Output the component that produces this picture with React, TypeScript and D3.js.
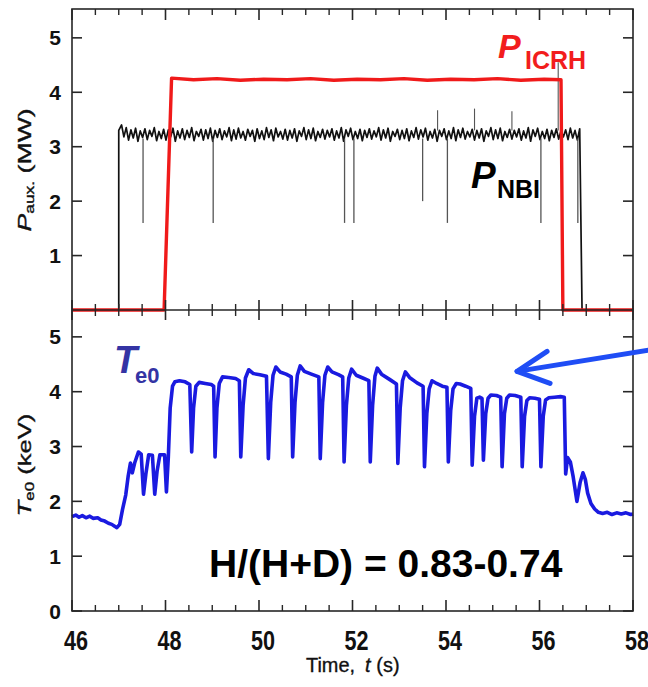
import React from 'react';
import * as d3 from 'd3';

// ---------- data ----------
const xTickLabels = [46, 48, 50, 52, 54, 56, 58];
const topYTicks = [1, 2, 3, 4, 5];
const botYTicks = [0, 1, 2, 3, 4, 5];

// P_ICRH (MW): [time s, power]
const icrhTrace: [number, number][] = [
  [46, 0], [47.97, 0], [48.13, 4.26], [48.6, 4.23], [49.1, 4.25], [49.6, 4.22], [50.1, 4.24],
  [50.6, 4.23], [51.1, 4.25], [51.6, 4.22], [52.1, 4.24], [52.6, 4.23], [53.1, 4.25],
  [53.6, 4.22], [54.1, 4.24], [54.6, 4.23], [55.1, 4.25], [55.6, 4.22], [56.1, 4.24],
  [56.46, 4.23], [56.5, 0], [58, 0],
];

// P_NBI (MW) plateau samples, starting 47.06 s, every 0.05 s
const nbiStart = 47.06;
const nbiStep = 0.05;
const nbiPlateau = [
  3.40, 3.18, 3.35, 3.12, 3.31, 3.16, 3.34, 3.10, 3.29, 3.17,
  3.33, 3.13, 3.30, 3.19, 3.35, 3.11, 3.28, 3.15, 3.32, 3.12,
  3.31, 3.18, 3.34, 3.10, 3.29, 3.16, 3.33, 3.13, 3.30, 3.17,
  3.35, 3.11, 3.28, 3.19, 3.32, 3.12, 3.31, 3.15, 3.34, 3.10,
  3.30, 3.17, 3.33, 3.13, 3.29, 3.18, 3.35, 3.11, 3.31, 3.14,
  3.34, 3.16, 3.28, 3.12, 3.32, 3.19, 3.30, 3.10, 3.33, 3.15,
  3.29, 3.13, 3.35, 3.17, 3.31, 3.11, 3.34, 3.18, 3.28, 3.14,
  3.32, 3.12, 3.30, 3.16, 3.33, 3.10, 3.29, 3.19, 3.35, 3.13,
  3.31, 3.15, 3.34, 3.11, 3.28, 3.17, 3.32, 3.14, 3.30, 3.18,
  3.33, 3.12, 3.29, 3.16, 3.35, 3.10, 3.31, 3.19, 3.34, 3.13,
  3.28, 3.15, 3.32, 3.11, 3.30, 3.17, 3.33, 3.14, 3.29, 3.18,
  3.35, 3.12, 3.31, 3.16, 3.34, 3.10, 3.28, 3.19, 3.32, 3.13,
  3.30, 3.15, 3.33, 3.11, 3.29, 3.17, 3.35, 3.14, 3.31, 3.18,
  3.34, 3.12, 3.28, 3.16, 3.32, 3.10, 3.30, 3.19, 3.33, 3.13,
  3.29, 3.15, 3.35, 3.11, 3.31, 3.17, 3.34, 3.14, 3.28, 3.18,
  3.32, 3.12, 3.30, 3.16, 3.33, 3.10, 3.29, 3.19, 3.35, 3.13,
  3.31, 3.15, 3.34, 3.11, 3.28, 3.17, 3.32, 3.14, 3.30, 3.18,
  3.33, 3.12, 3.29, 3.16, 3.35, 3.10, 3.31, 3.19, 3.34, 3.13,
  3.28, 3.15, 3.32, 3.11, 3.30, 3.17, 3.33, 3.14, 3.29, 3.18,
  3.31, 3.13, 3.34, 3.16, 3.30, 3.12, 3.33,
];
const nbiOn = 47.0;
const nbiOff = 56.91;
// beam-notch dips and spikes: [time, value]
const nbiDips: [number, number][] = [
  [47.52, 1.6], [49.02, 1.6], [51.83, 1.6], [52.03, 1.6], [53.5, 2.0], [54.03, 1.6], [56.03, 1.6], [56.82, 1.6],
];
const nbiSpikes: [number, number][] = [[53.82, 3.67], [54.61, 3.7], [55.41, 3.65], [56.4, 4.55]];

// T_e0 (keV)
const te0Trace: [number, number][] = [
  [46.0, 1.72], [46.08, 1.75], [46.15, 1.71], [46.22, 1.74], [46.3, 1.70], [46.38, 1.73], [46.45, 1.69],
  [46.55, 1.70], [46.62, 1.66], [46.7, 1.64], [46.78, 1.60], [46.85, 1.58], [46.92, 1.54], [46.96, 1.52],
  [47.02, 1.58], [47.08, 1.85], [47.15, 2.12], [47.2, 2.45], [47.25, 2.70], [47.29, 2.52], [47.34, 2.70],
  [47.42, 2.90], [47.48, 2.86], [47.53, 2.13], [47.58, 2.5], [47.64, 2.85], [47.72, 2.84], [47.77, 2.13],
  [47.82, 2.55], [47.88, 2.85], [47.98, 2.85], [48.02, 2.17], [48.06, 2.8], [48.1, 3.7], [48.15, 4.1],
  [48.2, 4.18], [48.3, 4.2], [48.42, 4.18], [48.52, 4.13],
  [48.56, 2.9], [48.6, 3.7], [48.65, 4.1], [48.72, 4.17], [48.85, 4.15], [48.98, 4.13], [49.03, 4.1],
  [49.06, 2.81], [49.1, 3.7], [49.15, 4.15], [49.22, 4.27], [49.35, 4.26], [49.5, 4.24], [49.58, 4.2],
  [49.61, 2.81], [49.66, 3.75], [49.71, 4.25], [49.78, 4.4], [49.88, 4.33], [50.02, 4.31], [50.16, 4.28],
  [50.2, 2.78], [50.25, 3.8], [50.3, 4.3], [50.36, 4.45], [50.45, 4.36], [50.58, 4.32], [50.69, 4.27],
  [50.72, 2.81], [50.77, 3.8], [50.82, 4.3], [50.88, 4.47], [50.97, 4.37], [51.12, 4.32], [51.28, 4.27],
  [51.31, 2.78], [51.36, 3.8], [51.41, 4.3], [51.47, 4.45], [51.56, 4.36], [51.7, 4.31], [51.79, 4.27],
  [51.82, 2.72], [51.87, 3.75], [51.92, 4.25], [51.98, 4.41], [52.08, 4.3], [52.22, 4.25], [52.35, 4.2],
  [52.38, 2.72], [52.43, 3.75], [52.48, 4.28], [52.53, 4.43], [52.62, 4.32], [52.8, 4.22], [52.94, 4.14],
  [52.97, 2.69], [53.02, 3.7], [53.07, 4.2], [53.13, 4.36], [53.22, 4.26], [53.38, 4.16], [53.51, 4.1],
  [53.54, 2.63], [53.59, 3.6], [53.64, 4.05], [53.7, 4.2], [53.8, 4.15], [53.92, 4.1], [54.02, 4.08],
  [54.05, 2.72], [54.1, 3.65], [54.15, 4.05], [54.22, 4.15], [54.3, 4.14], [54.42, 4.1], [54.53, 4.06],
  [54.56, 2.66], [54.61, 3.55], [54.66, 3.88], [54.72, 3.9], [54.77, 3.88],
  [54.8, 2.75], [54.85, 3.6], [54.9, 3.88], [54.96, 3.94], [55.08, 3.93], [55.17, 3.9],
  [55.2, 2.63], [55.25, 3.6], [55.3, 3.88], [55.36, 3.94], [55.48, 3.93], [55.6, 3.9],
  [55.63, 2.63], [55.68, 3.55], [55.73, 3.84], [55.79, 3.89], [55.9, 3.88], [56.0, 3.86],
  [56.03, 2.63], [56.08, 3.55], [56.13, 3.85], [56.2, 3.89], [56.32, 3.9], [56.45, 3.91], [56.53, 3.9],
  [56.56, 2.5], [56.6, 2.8], [56.66, 2.72], [56.72, 2.45], [56.8, 2.0], [56.87, 2.35], [56.93, 2.52],
  [56.98, 2.4], [57.03, 2.15], [57.1, 1.96], [57.18, 1.86], [57.26, 1.80], [57.35, 1.78], [57.45, 1.80],
  [57.55, 1.76], [57.65, 1.79], [57.75, 1.77], [57.85, 1.79], [57.95, 1.76], [58, 1.77],
];

const ratioText = 'H/(H+D) = 0.83-0.74';

// ---------- chart ----------
const FONT = "'Liberation Sans', Arial, Helvetica, sans-serif";

export default function App() {
  const x = d3.scaleLinear().domain([46, 58]).range([72, 633]);
  const yTop = d3.scaleLinear().domain([0, 5.53]).range([310, 9]);
  const yBot = d3.scaleLinear().domain([0, 5.49]).range([611, 310]);

  const lineTop = d3.line<[number, number]>().x(d => x(d[0])).y(d => yTop(d[1]));
  const lineBot = d3.line<[number, number]>().x(d => x(d[0])).y(d => yBot(d[1]));

  const nbiSamples: [number, number][] = nbiPlateau.map((v, i) => [nbiStart + i * nbiStep, v] as [number, number]);
  const nbiTrace: [number, number][] = [
    [46, 0], [nbiOn, 0], [nbiOn, 3.3],
    ...nbiSamples,
    [nbiOff, 0], [58, 0],
  ];

  const minor = d3.range(46, 58.001, 0.5).filter(t => Math.abs(t - Math.round(t / 2) * 2) > 1e-6);
  const frameColor = '#262626';
  const L = 72, R = 633, T = 9, B = 611, M = 310;

  const arrowTip: [number, number] = [x(55.52), yBot(4.37)];
  const titleStyle = { fontSize: 21, fill: '#111', stroke: '#111', strokeWidth: 0.35 } as const;

  return (
    <svg width={648} height={687} style={{ position: 'absolute', left: 0, top: 0, background: '#fff' }}
      fontFamily={FONT}>
      <rect x={0} y={0} width={648} height={687} fill="#fff" />

      {/* NBI */}
      <path d={lineTop(nbiTrace) || ''} fill="none" stroke="#111" strokeWidth={1.7} strokeLinejoin="round" />
      {nbiDips.map(([t, v], i) => (
        <line key={'d' + i} x1={x(t)} x2={x(t)} y1={yTop(3.15)} y2={yTop(v)} stroke="#555" strokeWidth={1.3} />
      ))}
      {nbiSpikes.map(([t, v], i) => (
        <line key={'s' + i} x1={x(t)} x2={x(t)} y1={yTop(3.3)} y2={yTop(v)} stroke="#555" strokeWidth={1.1} />
      ))}

      {/* ICRH */}
      <path d={lineTop(icrhTrace) || ''} fill="none" stroke="#f01a1a" strokeWidth={3.4} strokeLinejoin="round" />

      {/* Te0 */}
      <path d={lineBot(te0Trace) || ''} fill="none" stroke="#1a1ae0" strokeWidth={3.6} strokeLinejoin="round" />

      {/* frame */}
      <rect x={L} y={T} width={R - L} height={B - T} fill="none" stroke={frameColor} strokeWidth={1.6} />
      <line x1={L} x2={R} y1={M} y2={M} stroke={frameColor} strokeWidth={1.6} />

      {/* x ticks */}
      {xTickLabels.map(t => (
        <g key={'xt' + t} stroke={frameColor} strokeWidth={1.6}>
          <line x1={x(t)} x2={x(t)} y1={B} y2={B - 11} />
          <line x1={x(t)} x2={x(t)} y1={T} y2={T + 11} />
          <line x1={x(t)} x2={x(t)} y1={M - 10} y2={M + 10} />
        </g>
      ))}
      {minor.map(t => (
        <g key={'xm' + t} stroke={frameColor} strokeWidth={1.4}>
          <line x1={x(t)} x2={x(t)} y1={B} y2={B - 6} />
          <line x1={x(t)} x2={x(t)} y1={T} y2={T + 6} />
          <line x1={x(t)} x2={x(t)} y1={M - 6} y2={M + 6} />
        </g>
      ))}
      {/* y ticks */}
      {topYTicks.map(v => (
        <g key={'yt' + v} stroke={frameColor} strokeWidth={1.6}>
          <line x1={L} x2={L + 10} y1={yTop(v)} y2={yTop(v)} />
          <line x1={R} x2={R - 10} y1={yTop(v)} y2={yTop(v)} />
        </g>
      ))}
      {botYTicks.map(v => (
        <g key={'yb' + v} stroke={frameColor} strokeWidth={1.6}>
          <line x1={L} x2={L + 10} y1={yBot(v)} y2={yBot(v)} />
          <line x1={R} x2={R - 10} y1={yBot(v)} y2={yBot(v)} />
        </g>
      ))}

      {/* tick labels */}
      {xTickLabels.map(t => (
        <g key={'xl' + t} transform={`translate(${x(t) + 4},650) scale(0.8,1)`}>
          <text textAnchor="middle" fontSize={27} fontWeight="bold" fill="#111">{t}</text>
        </g>
      ))}
      {topYTicks.map(v => (
        <text key={'ytl' + v} x={61} y={yTop(v) + 7.5} textAnchor="end" fontSize={21} fontWeight="bold" fill="#111">{v}</text>
      ))}
      {botYTicks.map(v => (
        <text key={'ybl' + v} x={61} y={yBot(v) + 7.5} textAnchor="end" fontSize={21} fontWeight="bold" fill="#111">{v}</text>
      ))}

      {/* axis titles */}
      <g transform="translate(31,170) rotate(-90) scale(1.4,1)">
        <text textAnchor="middle" fontSize={19} fill="#111" stroke="#111" strokeWidth={0.35}>
          <tspan fontStyle="italic">P</tspan>
          <tspan fontSize={12.5} dy={3}>aux.</tspan>
          <tspan dy={-3}> (MW)</tspan>
        </text>
      </g>
      <g transform="translate(31,465) rotate(-90) scale(1.35,1)">
        <text textAnchor="middle" fontSize={19} fill="#111" stroke="#111" strokeWidth={0.35}>
          <tspan fontStyle="italic">T</tspan>
          <tspan fontSize={12.5} dy={3}>e0</tspan>
          <tspan dy={-3}> (keV)</tspan>
        </text>
      </g>
      <g transform="translate(306,672) scale(0.95,1)">
        <text x={0} y={0} {...titleStyle}>Time,</text>
        <text x={62} y={0} {...titleStyle} fontStyle="italic">t</text>
        <text x={74} y={0} {...titleStyle}>(s)</text>
      </g>

      {/* annotations */}
      <text fill="#f21d1d" fontWeight="bold">
        <tspan x={498} y={58} fontSize={34} fontStyle="italic">P</tspan>
        <tspan x={525} y={69} fontSize={25}>ICRH</tspan>
      </text>
      <text fill="#000" fontWeight="bold">
        <tspan x={471} y={188} fontSize={37} fontStyle="italic">P</tspan>
        <tspan x={497} y={198} fontSize={25}>NBI</tspan>
      </text>
      <text fill="#3434a4" fontWeight="bold">
        <tspan x={114} y={373} fontSize={38} fontStyle="italic">T</tspan>
        <tspan x={135} y={383} fontSize={22}>e0</tspan>
      </text>
      <text x={209} y={577} fontSize={39} fontWeight="bold" fill="#000">{ratioText}</text>

      {/* arrow */}
      <g stroke="#1f4df5" strokeWidth={5} strokeLinecap="round" strokeLinejoin="round" fill="none">
        <line x1={650} y1={350} x2={arrowTip[0]} y2={arrowTip[1]} />
        <polyline points={`${arrowTip[0] + 30},${arrowTip[1] - 20} ${arrowTip[0]},${arrowTip[1]} ${arrowTip[0] + 33},${arrowTip[1] + 12}`} />
      </g>
    </svg>
  );
}
